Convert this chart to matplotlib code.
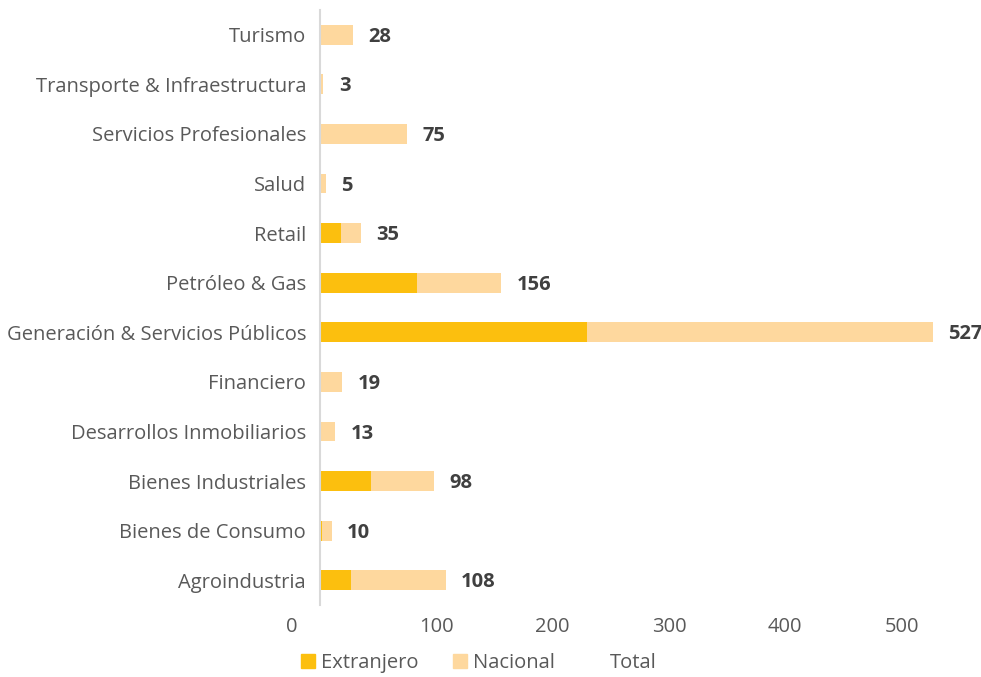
import numpy as np
import matplotlib.pyplot as plt
from matplotlib.transforms import ScaledTranslation
from matplotlib.patches import Patch

plt.rcParams['font.family'] = ['Open Sans', 'DejaVu Sans']

categorias = ["Agroindustria", "Bienes de Consumo", "Bienes Industriales",
              "Desarrollos Inmobiliarios", "Financiero",
              "Generación & Servicios Públicos", "Petróleo & Gas", "Retail",
              "Salud", "Servicios Profesionales",
              "Transporte & Infraestructura", "Turismo"]
total = np.array([108, 10, 98, 13, 19, 527, 156, 35, 5, 75, 3, 28])
extranjero = np.array([27, 2, 44, 0, 0, 230, 83, 18, 0, 0, 0, 0])
nacional = total - extranjero

c_ext = "#FCBF0E"
c_nac = "#FED89E"

fig = plt.figure(figsize=(9.81, 6.77), dpi=100)
ax = fig.add_axes([320/981, 1-605/677, 642/981, 595/677])

y = np.arange(len(categorias))
ax.barh(y, extranjero, height=0.4, color=c_ext)
ax.barh(y, nacional, left=extranjero, height=0.4, color=c_nac)

for i in range(len(total)):
    ax.annotate(str(total[i]), (total[i], y[i]), xytext=(11, -1.5),
                textcoords="offset points", ha="left", va="center",
                fontsize=14.5, fontweight="bold", color="#404040")

ax.set_ylim(-0.5, len(categorias)-0.5)
ax.set_xlim(0, 642/1.163)
ax.set_yticks(y)
ax.set_yticklabels(categorias, fontsize=14.5, color="#595959")
ax.set_xticks([0, 100, 200, 300, 400, 500])
ax.tick_params(axis="x", labelsize=14.5, labelcolor="#595959", length=0, pad=9)
ax.tick_params(axis="y", length=0, pad=10)
# el 0 aparece corrido a la izquierda
lbl0 = ax.get_xticklabels()[0]
lbl0.set_transform(lbl0.get_transform() + ScaledTranslation(-20/72, 0, fig.dpi_scale_trans))

for s in ["top", "right", "bottom"]:
    ax.spines[s].set_visible(False)
ax.spines["left"].set_color("#D9D9D9")
ax.spines["left"].set_linewidth(1.5)

handles = [Patch(color=c_ext), Patch(color=c_nac), Patch(color="none")]
fig.legend(handles, ["Extranjero", "Nacional", "Total"], loc="center",
           bbox_to_anchor=(0.488, 1-663/677), ncol=3, frameon=False,
           fontsize=14.5, labelcolor="#595959", handlelength=0.7,
           handleheight=0.7, handletextpad=0.3, columnspacing=1.7,
           borderpad=0.1)

fig.savefig("out.png", dpi=100)
